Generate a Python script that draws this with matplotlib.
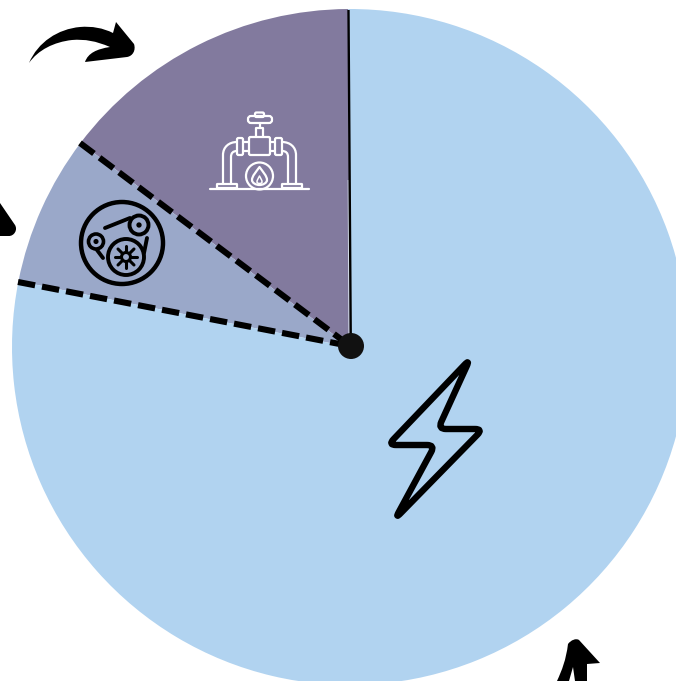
import matplotlib
matplotlib.use("Agg")
import matplotlib.pyplot as plt
import numpy as np
from matplotlib.path import Path
from matplotlib.patches import PathPatch, Circle, FancyBboxPatch

W, H = 676, 681
labels = ["gas", "belt", "electric"]
shares = [14.6, 7.2, 78.2]
colors = ["#827A9E", "#9AA8C9", "#B1D3F0"]
start_angle = 90.3


def y(v):
    return H - v


def pts(seq):
    return [(a, y(b)) for a, b in seq]


def curve(start, segs, ax, color="black", fill=True, lw=0, close=True):
    # segs: straight (x, y) or bezier ((c1), (c2), (end))
    verts = [(start[0], y(start[1]))]
    codes = [Path.MOVETO]
    for s in segs:
        if isinstance(s[0], tuple):
            verts += pts(s)
            codes += [Path.CURVE4] * 3
        else:
            verts.append((s[0], y(s[1])))
            codes.append(Path.LINETO)
    if close:
        verts.append(verts[0])
        codes.append(Path.CLOSEPOLY)
    ax.add_patch(PathPatch(Path(verts, codes), fc=color if fill else "none",
                           ec=color, lw=lw, capstyle="round", joinstyle="round", zorder=5))


def rounded_poly(ax, corners, r, lw, color="black"):
    # closed outline with each corner cut back by r and smoothed
    p = np.array(pts(corners), dtype=float)
    n = len(p)
    verts, codes = [], []
    for i in range(n):
        a, b, c = p[i - 1], p[i], p[(i + 1) % n]
        in_pt = b + (a - b) / np.linalg.norm(a - b) * r
        out_pt = b + (c - b) / np.linalg.norm(c - b) * r
        verts.append(in_pt)
        codes.append(Path.MOVETO if i == 0 else Path.LINETO)
        verts += [b, out_pt]
        codes += [Path.CURVE3, Path.CURVE3]
    verts.append(verts[0])
    codes.append(Path.CLOSEPOLY)
    ax.add_patch(PathPatch(Path(verts, codes), fc="none", ec=color, lw=lw, joinstyle="round", zorder=5))


def line(ax, seq, color, lw, **kw):
    xs = [p[0] for p in seq]
    ys = [y(p[1]) for p in seq]
    ax.plot(xs, ys, color=color, lw=lw, solid_capstyle=kw.pop("cap", "round"), zorder=5, **kw)


def ring(ax, cx, cy, r, color, lw, fc="none"):
    ax.add_patch(Circle((cx, y(cy)), r, fc=fc, ec=color, lw=lw, zorder=5))


def box(ax, x0, y0, x1, y1, color, lw, pad=1.5):
    ax.add_patch(FancyBboxPatch((x0 + pad, y(y1) + pad), x1 - x0 - 2 * pad, y1 - y0 - 2 * pad,
                                boxstyle=f"round,pad={pad}", fc="none", ec=color, lw=lw, zorder=5))


fig = plt.figure(figsize=(W / 100, H / 100), dpi=100)
ax = fig.add_axes([0, 0, 1, 1])
ax.pie(shares, colors=colors, startangle=start_angle, counterclock=True,
       center=(350, y(347)), radius=338, wedgeprops={"linewidth": 0})
ax.set_xlim(0, W)
ax.set_ylim(0, H)
ax.set_aspect("equal")
ax.axis("off")

# slice borders
line(ax, [(348.2, 180), (349, 340)], "#D5DEEC", 0.8, cap="butt")
line(ax, [(348.5, 10), (350.8, 346)], "black", 1.7, cap="butt")
line(ax, [(80, 143), (350, 346)], "black", 4.4, cap="butt", linestyle=(0, (2.85, 1.15)))
line(ax, [(18, 282), (350, 346)], "black", 4.4, cap="butt", linestyle=(0, (2.85, 1.15)))
ax.add_patch(Circle((351, y(346)), 13, fc="#111111", ec="none", zorder=6))

# lightning bolt
rounded_poly(ax, [(470, 359), (438, 429), (483, 429), (395, 519), (435, 445), (388, 445)], 8, 4.6)

# gas valve icon
wh = "white"
glw = 1.6
line(ax, [(210, 188.5), (309, 188.5)], wh, glw)
ring(ax, 259.5, 176, 13.5, wh, glw)
curve((259.5, 167), [((256, 172), (252, 176), (252, 180)), ((252, 183), (256, 185), (259.5, 185)),
                     ((263, 185), (267, 183), (267, 180)), ((267, 176), (263, 172), (259.5, 167))],
      ax, color=wh, fill=False, lw=glw)
curve((259.5, 176), [((258, 179), (257, 180), (257, 182)), ((257, 184), (262, 184), (262, 182)),
                     ((262, 180), (261, 179), (259.5, 176))], ax, color=wh, fill=False, lw=1.1)
box(ax, 249, 137, 270, 155, wh, glw)
box(ax, 237, 138, 243, 155, wh, glw)
box(ax, 275, 138, 282, 155, wh, glw)
line(ax, [(243, 142), (249, 142)], wh, glw)
line(ax, [(243, 151), (249, 151)], wh, glw)
line(ax, [(270, 142), (275, 142)], wh, glw)
line(ax, [(270, 151), (275, 151)], wh, glw)
line(ax, [(256, 137), (256, 128), (263, 128), (263, 137)], wh, glw)
box(ax, 248, 116, 272, 123, wh, glw, pad=3)
box(ax, 255, 112.5, 264, 117, wh, glw, pad=1.5)
line(ax, [(259.5, 123), (259.5, 128)], wh, glw)
curve((223, 184), [(223, 155), ((223, 147), (229, 142), (237, 142))], ax, color=wh, fill=False, lw=glw, close=False)
curve((231, 184), [(231, 157), ((231, 153), (233, 151), (237, 151))], ax, color=wh, fill=False, lw=glw, close=False)
curve((296, 184), [(296, 155), ((296, 147), (290, 142), (282, 142))], ax, color=wh, fill=False, lw=glw, close=False)
curve((288, 184), [(288, 157), ((288, 153), (286, 151), (282, 151))], ax, color=wh, fill=False, lw=glw, close=False)
box(ax, 217, 184, 237, 188, wh, glw, pad=0.5)
box(ax, 282, 184, 302, 188, wh, glw, pad=0.5)

# belt drive icon
ring(ax, 122, 243, 41, "black", 3.2)
ring(ax, 139, 225, 9.5, "black", 2.8)
ring(ax, 139, 225, 1.6, "black", 1.5, fc="black")
ring(ax, 96, 241.5, 7.5, "black", 2.6)
ring(ax, 96, 241.5, 1.5, "black", 1.5, fc="black")
ring(ax, 126, 257, 18, "black", 2.8)
for a, b in [((126, 246), (126, 268)), ((115, 257), (137, 257)), ((118, 249), (134, 265)), ((118, 265), (134, 249))]:
    line(ax, [a, b], "black", 2.2)
ring(ax, 126, 257, 4, "#9AA8C9", 1.8, fc="#9AA8C9")
ring(ax, 126, 257, 4.5, "black", 2.2)
line(ax, [(105, 228), (130, 218)], "black", 2.8)
line(ax, [(97, 250), (103, 258)], "black", 2.8)
line(ax, [(147, 238), (144, 253)], "black", 2.8)

# arrows around the pie
curve((29, 63), [((38, 42), (58, 29), (80, 27)), ((92, 26), (103, 28), (113, 33)), (116, 22),
                 (134, 44), ((136, 50), (133, 56), (127, 57)), (85, 62),
                 ((88, 53), (97, 49), (110, 47)), ((96, 41), (85, 39), (72, 40)),
                 ((54, 42), (38, 50), (29, 63))], ax)
curve((0, 203), [(15, 225), ((18, 230), (14, 236), (9, 236)), (0, 236)], ax)
curve((557, 681), [((562, 670), (566, 660), (568, 644)), ((571, 640), (576, 638), (579, 640)),
                   (600, 663), (587, 664), (587, 681), (575, 681), (573, 667), (569, 681)], ax)

fig.savefig("out.png", dpi=100)
